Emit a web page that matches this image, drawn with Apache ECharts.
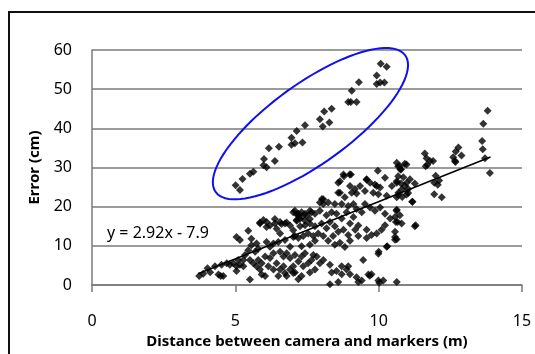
<!DOCTYPE html>
<html>
<head>
<meta charset="utf-8">
<script src="https://cdn.jsdelivr.net/npm/echarts@6/dist/echarts.min.js"></script>
<style>
  html, body { margin: 0; padding: 0; background: #fff; }
  #box { width: 535px; height: 354px; }
</style>
</head>
<body>
<div id="box"></div>
<script>
// data ---------------------------------------------------------------------
var xTicks = [0, 5, 10, 15];
var yTicks = [0, 10, 20, 30, 40, 50, 60];

// points inside the blue ellipse
var upperPoints = [
    [5.01, 25.5], [5.16, 24.3], [5.25, 27.1], [5.51, 28.4], [5.63, 28.9],
    [6.00, 32.2], [5.98, 30.6], [6.09, 30.1], [6.17, 34.9], [6.38, 31.7],
    [6.52, 35.3], [6.96, 37.6], [7.14, 39.3], [6.96, 35.8], [7.08, 36.2],
    [7.34, 36.4], [7.43, 40.8], [7.95, 42.3], [8.05, 40.5], [8.28, 41.5],
    [8.10, 44.3], [8.36, 45.0], [8.94, 46.7], [9.03, 46.7], [9.23, 46.7],
    [9.06, 49.6], [9.31, 51.8], [9.93, 51.3], [10.05, 51.7], [10.20, 51.7],
    [9.93, 53.5], [10.07, 56.5], [10.28, 55.7]
];

// main cloud
var lowerPoints = [
    [3.74, 2.3], [3.88, 2.9], [4.03, 4.3], [4.12, 3.3], [4.29, 4.8], [4.41, 2.7],
    [4.49, 2.3], [4.58, 2.3], [4.52, 5.2], [4.70, 5.6], [4.81, 5.2], [4.93, 5.6],
    [5.04, 4.8], [5.16, 5.2], [5.10, 6.4], [5.28, 6.4], [5.34, 7.7], [5.45, 8.9],
    [5.51, 6.4], [5.63, 5.6], [5.74, 4.8], [5.86, 4.0], [5.92, 5.6], [5.80, 6.4],
    [6.04, 7.3], [5.51, 1.4], [6.15, 4.8], [6.21, 6.9], [6.33, 8.1], [6.44, 5.6],
    [6.56, 4.0], [6.68, 4.8], [6.79, 2.3], [6.91, 4.0], [7.02, 4.8], [6.50, 2.3],
    [5.04, 12.3], [5.16, 11.5], [5.45, 13.9], [5.56, 11.8], [5.56, 10.2], [5.86, 16.0],
    [5.98, 16.6], [6.09, 14.8], [6.21, 15.2], [6.38, 16.9], [6.44, 14.4], [6.56, 13.2],
    [6.61, 15.6], [6.79, 16.0], [6.91, 15.2], [7.02, 14.0], [7.14, 18.1], [7.14, 16.4],
    [6.09, 11.0], [6.21, 9.8], [6.33, 10.6], [6.50, 11.0], [6.73, 11.5], [6.91, 9.8],
    [7.02, 12.3], [5.74, 10.6], [5.28, 4.8], [5.04, 3.6], [5.92, 2.7], [6.04, 2.3],
    [6.73, 3.1], [7.02, 3.1], [6.33, 4.0], [5.69, 8.5], [5.80, 9.3], [6.56, 8.5],
    [6.68, 7.3], [6.79, 8.1], [6.91, 6.9], [7.08, 7.7],
    [7.02, 18.6], [7.20, 18.2], [7.31, 18.6], [7.49, 17.8], [7.66, 18.6], [7.78, 18.2],
    [7.60, 16.9], [7.43, 16.5], [7.25, 16.9], [6.73, 15.7], [6.56, 16.1], [6.38, 15.7],
    [6.09, 16.1], [5.86, 15.7],
    [10.63, 31.2], [10.78, 29.5], [9.97, 29.2], [10.22, 27.4], [8.77, 28.2], [8.99, 28.2],
    [8.65, 26.5], [9.58, 26.9], [9.70, 26.1], [9.87, 25.7], [10.05, 24.9], [10.46, 25.3],
    [10.63, 26.5], [10.69, 23.6], [10.80, 24.4], [9.52, 24.0], [9.81, 23.6], [9.99, 23.2],
    [10.28, 22.8], [8.59, 23.6], [8.82, 22.4], [9.06, 23.6], [9.23, 23.4], [8.02, 22.0],
    [8.07, 20.7], [8.24, 21.1], [8.47, 20.7], [8.71, 20.7], [8.94, 20.2], [9.12, 20.7],
    [9.23, 19.4], [9.41, 18.6], [9.52, 20.7], [9.70, 19.8], [9.87, 19.0], [10.05, 19.8],
    [10.22, 18.2], [10.40, 17.0], [10.57, 17.4], [10.74, 17.8], [10.80, 15.7], [10.57, 13.6],
    [10.57, 12.3], [10.22, 15.3], [10.10, 14.1], [9.93, 13.2], [9.75, 12.8], [9.58, 12.0],
    [9.58, 14.1], [9.29, 15.2], [9.12, 17.4], [8.88, 18.6], [8.71, 17.0], [8.53, 18.2],
    [8.36, 18.6], [8.18, 17.8], [7.95, 19.0], [7.60, 19.0], [7.43, 18.2], [7.31, 17.4],
    [7.20, 17.8], [7.14, 16.6], [7.26, 15.0], [7.43, 15.3], [7.60, 15.7], [7.78, 15.0],
    [8.01, 15.7], [8.18, 14.5], [8.30, 16.1], [8.47, 15.0], [8.59, 13.6], [8.77, 14.1],
    [8.94, 12.8], [9.00, 15.7], [9.18, 14.1], [8.41, 12.5], [8.24, 11.3], [8.07, 12.5],
    [7.89, 13.2], [7.72, 12.5], [7.54, 13.2], [7.37, 12.5], [7.20, 12.0], [7.08, 12.5],
    [7.78, 11.3], [7.60, 10.3], [7.31, 9.9], [8.47, 10.3], [8.65, 10.8], [8.82, 9.7],
    [9.00, 11.3], [9.46, 6.4], [9.99, 8.0], [10.28, 9.8], [9.29, 12.5], [7.20, 6.0],
    [7.31, 7.3], [7.43, 8.1], [7.37, 4.8], [7.54, 5.6], [7.66, 6.4], [7.72, 7.7],
    [7.84, 7.3], [7.95, 5.6], [8.07, 6.4], [7.78, 4.0], [7.60, 3.2], [7.31, 2.3],
    [7.08, 3.2], [7.20, 1.5], [8.36, 3.2], [8.53, 3.6], [8.30, 5.2], [8.71, 2.8],
    [8.88, 4.0], [9.00, 2.8], [9.23, 2.0], [9.29, 0.8], [9.41, 1.2], [9.75, 2.8],
    [9.99, 1.2], [10.16, 1.2], [8.30, 0.2], [8.71, 4.8],
    [8.59, 0.8], [9.69, 2.4], [10.02, 0.6], [10.63, 0.8], [10.00, 8.5], [10.30, 9.9],
    [10.57, 11.6], [11.26, 15.0], [11.18, 21.3], [10.60, 16.1], [10.62, 19.0], [8.94, 4.8],
    [9.64, 2.7], [7.08, 19.0], [7.95, 21.1], [8.07, 21.9], [8.65, 23.6], [8.59, 26.1],
    [9.00, 25.3], [9.17, 24.5], [9.35, 25.3], [9.58, 27.0], [9.93, 25.3],
    [13.80, 44.5], [13.65, 41.2], [13.61, 36.8], [13.63, 34.7], [13.71, 32.4], [13.88, 28.6],
    [12.78, 35.1], [12.69, 34.1], [12.89, 33.1], [12.60, 32.6], [12.66, 31.7], [12.68, 31.4],
    [11.61, 33.6], [11.67, 32.4], [11.79, 31.7], [11.90, 31.7], [11.70, 30.7], [11.64, 30.3],
    [11.99, 27.9], [12.11, 26.7], [11.94, 26.1], [12.06, 25.6], [11.94, 23.2], [12.20, 22.4],
    [10.74, 30.3], [10.97, 30.8], [10.68, 27.8], [10.86, 27.5], [10.63, 26.1], [10.78, 25.9],
    [10.98, 26.1], [11.09, 27.0], [10.91, 25.3], [11.03, 24.5], [11.26, 25.9], [10.68, 23.0],
    [10.82, 22.5], [10.97, 23.1], [11.03, 23.5], [10.63, 22.4], [11.17, 21.3], [10.63, 19.2],
    [10.66, 16.1], [11.29, 15.3], [10.63, 11.7],
    [8.79, 27.8], [9.03, 28.2], [10.68, 30.3], [10.76, 29.5], [10.91, 31.0]
];

// linear trend shown on the chart
var trendSlope = 2.92;
var trendIntercept = -7.9;
var trendRange = [3.7, 13.9];
var trendLabel = 'y = 2.92x - 7.9';

// ellipse: centre and two half-axes, in data units
var ellipseCenter = [7.62, 41.2];
var ellipseMajor = [3.30, 17.5];
var ellipseMinor = [-0.837, 8.17];

var font = 'Noto Sans';
var gridGray = '#7a7a7a';

var trendData = trendRange.map(function (x) {
    return [x, trendSlope * x + trendIntercept];
});

var xMin = xTicks[0], xMax = xTicks[xTicks.length - 1];
var yMin = yTicks[0], yMax = yTicks[yTicks.length - 1];

var myChart = echarts.init(document.getElementById('box'));
var option = {
    animation: false,
    grid: {
        left: 92,
        top: 50,
        right: 13,
        bottom: 65
    },
    xAxis: {
        type: 'value',
        min: xMin,
        max: xMax,
        interval: xTicks[1] - xTicks[0],
        name: 'Distance between camera and markers (m)',
        nameLocation: 'middle',
        nameGap: 45,
        nameTextStyle: { fontFamily: font, fontSize: 15, fontWeight: 'bold', color: '#000' },
        axisLine: { show: true, lineStyle: { color: gridGray, width: 1.5 } },
        axisTick: { show: true, length: 7, lineStyle: { color: gridGray, width: 1.5 } },
        axisLabel: { margin: 28, fontFamily: font, fontSize: 16, color: '#000' },
        splitLine: { show: false }
    },
    yAxis: {
        type: 'value',
        min: yMin,
        max: yMax,
        interval: yTicks[1] - yTicks[0],
        name: 'Error (cm)',
        nameLocation: 'middle',
        nameGap: 50,
        nameTextStyle: { fontFamily: font, fontSize: 15, fontWeight: 'bold', color: '#000' },
        axisLine: { show: true, lineStyle: { color: gridGray, width: 1.5 } },
        axisTick: { show: false },
        axisLabel: { margin: 20, fontFamily: font, fontSize: 16, color: '#000' },
        splitLine: { show: true, lineStyle: { color: gridGray, width: 1.5 } }
    },
    graphic: [
        {
            type: 'line',
            shape: { x1: 9, y1: 11, x2: 9, y2: 360 },
            style: { stroke: '#111', lineWidth: 2 },
            silent: true
        },
        {
            type: 'line',
            shape: { x1: 8, y1: 12, x2: 540, y2: 12 },
            style: { stroke: '#111', lineWidth: 2 },
            silent: true
        },
        {
            type: 'text',
            x: 107,
            y: 225,
            style: { text: trendLabel, fontFamily: font, fontSize: 16, fill: '#000' },
            silent: true
        }
    ],
    series: [
        {
            type: 'scatter',
            data: lowerPoints,
            symbol: 'diamond',
            symbolSize: 8,
            itemStyle: { color: '#000' }
        },
        {
            type: 'scatter',
            data: upperPoints,
            symbol: 'diamond',
            symbolSize: 8,
            itemStyle: { color: '#000' }
        },
        {
            type: 'line',
            data: trendData,
            showSymbol: false,
            lineStyle: { color: '#000', width: 1.5 }
        },
        {
            type: 'custom',
            data: [ellipseCenter],
            silent: true,
            z: 5,
            renderItem: function (params, api) {
                var pts = [];
                for (var i = 0; i <= 96; i++) {
                    var t = i / 96 * Math.PI * 2;
                    pts.push(api.coord([
                        ellipseCenter[0] + Math.cos(t) * ellipseMajor[0] + Math.sin(t) * ellipseMinor[0],
                        ellipseCenter[1] + Math.cos(t) * ellipseMajor[1] + Math.sin(t) * ellipseMinor[1]
                    ]));
                }
                return {
                    type: 'polyline',
                    shape: { points: pts },
                    style: { fill: null, stroke: '#1010ee', lineWidth: 2 }
                };
            }
        }
    ]
};

option && myChart.setOption(option);
</script>
</body>
</html>
